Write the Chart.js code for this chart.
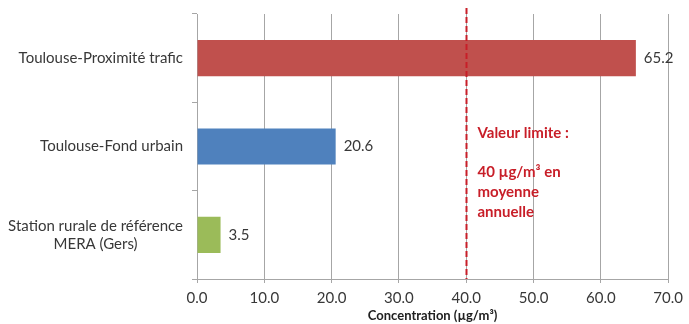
<!DOCTYPE html>
<html>
<head>
<meta charset="utf-8">
<script src="https://cdn.jsdelivr.net/npm/chart.js@4/dist/chart.umd.min.js"></script>
<style>
  html, body { margin: 0; padding: 0; background: #fff; }
  #wrap { width: 689px; height: 324px; }
</style>
</head>
<body>
<div id="wrap"><canvas id="no2"></canvas></div>
<script>
// NO2 annual means per station
var stations = [
    ["Toulouse-Proximité trafic"],
    ["Toulouse-Fond urbain"],
    ["Station rurale de référence", "MERA (Gers)"]
];
var concentrations = [65.2, 20.6, 3.5];
var barColors = ["#C0504D", "#4F81BD", "#9BBB59"];
var limitValue = 40;
var limitText = ["Valeur limite :", "", "40 µg/m³ en", "moyenne", "annuelle"];

var fontFamily = "Lato, 'Open Sans', sans-serif";
var gridColor = "#A6A6A6";
var textColor = "#383838";
var limitColor = "#C81E28";

// station names drawn by hand: right-aligned block, lines centered inside it
var stationLabels = {
    id: 'stationLabels',
    afterDraw: function(chart) {
        var ctx = chart.ctx, y = chart.scales.y;
        ctx.save();
        ctx.font = "15px " + fontFamily;
        ctx.fillStyle = textColor;
        ctx.textBaseline = "middle";
        ctx.textAlign = "center";
        var right = chart.chartArea.left - 14;
        stations.forEach(function(lines, i) {
            var w = Math.max.apply(null, lines.map(function(l) { return ctx.measureText(l).width; }));
            var cy = y.getPixelForValue(i) - (lines.length - 1) * 9;
            lines.forEach(function(l, j) {
                ctx.fillText(l, right - w / 2, cy + j * 18);
            });
        });
        ctx.restore();
    }
};

// value at the end of each bar
var valueLabels = {
    id: 'valueLabels',
    afterDatasetsDraw: function(chart) {
        var ctx = chart.ctx, meta = chart.getDatasetMeta(0);
        ctx.save();
        ctx.font = "15px " + fontFamily;
        ctx.fillStyle = textColor;
        ctx.textBaseline = "middle";
        ctx.textAlign = "left";
        meta.data.forEach(function(bar, i) {
            ctx.fillText(concentrations[i].toFixed(1), bar.x + 8, bar.y);
        });
        ctx.restore();
    }
};

// dashed limit line with its caption
var limitLine = {
    id: 'limitLine',
    afterDatasetsDraw: function(chart) {
        var ctx = chart.ctx, x = chart.scales.x, area = chart.chartArea;
        var px = Math.round(x.getPixelForValue(limitValue)) + 0.5;
        ctx.save();
        ctx.strokeStyle = limitColor;
        ctx.lineWidth = 2;
        ctx.setLineDash([6, 3]);
        ctx.beginPath();
        ctx.moveTo(px, area.top - 6);
        ctx.lineTo(px, area.bottom);
        ctx.stroke();
        ctx.setLineDash([]);
        ctx.font = "bold 15px " + fontFamily;
        ctx.fillStyle = limitColor;
        ctx.textBaseline = "middle";
        ctx.textAlign = "left";
        limitText.forEach(function(l, j) {
            ctx.fillText(l, px + 11, 133 + j * 19.8);
        });
        ctx.restore();
    }
};

new Chart(document.getElementById("no2"), {
    type: 'bar',
    data: {
        labels: stations,
        datasets: [{
            data: concentrations,
            backgroundColor: barColors,
            borderWidth: 0,
            barPercentage: 0.41,
            categoryPercentage: 1
        }]
    },
    options: {
        indexAxis: 'y',
        responsive: true,
        maintainAspectRatio: false,
        animation: false,
        layout: { padding: { top: 14, right: 18, bottom: 0, left: 0 } },
        plugins: {
            legend: { display: false },
            tooltip: { enabled: false }
        },
        scales: {
            x: {
                min: 0,
                max: 70,
                ticks: {
                    stepSize: 10,
                    padding: 6,
                    color: textColor,
                    font: { family: fontFamily, size: 15 },
                    callback: function(v) { return v.toFixed(1); }
                },
                grid: { color: gridColor, tickLength: 4 },
                border: { color: gridColor },
                title: {
                    display: true,
                    text: "Concentration (µg/m³)",
                    color: "#202020",
                    font: { family: fontFamily, size: 13, weight: 'bold' },
                    padding: { top: 0, bottom: 0 }
                },
                afterFit: function(scale) { scale.height = 45; }
            },
            y: {
                ticks: { display: false },
                grid: { drawOnChartArea: false, color: gridColor, tickLength: 5, offset: true },
                border: { color: gridColor },
                afterFit: function(scale) { scale.width = 197; }
            }
        }
    },
    plugins: [stationLabels, valueLabels, limitLine]
});
</script>
</body>
</html>
